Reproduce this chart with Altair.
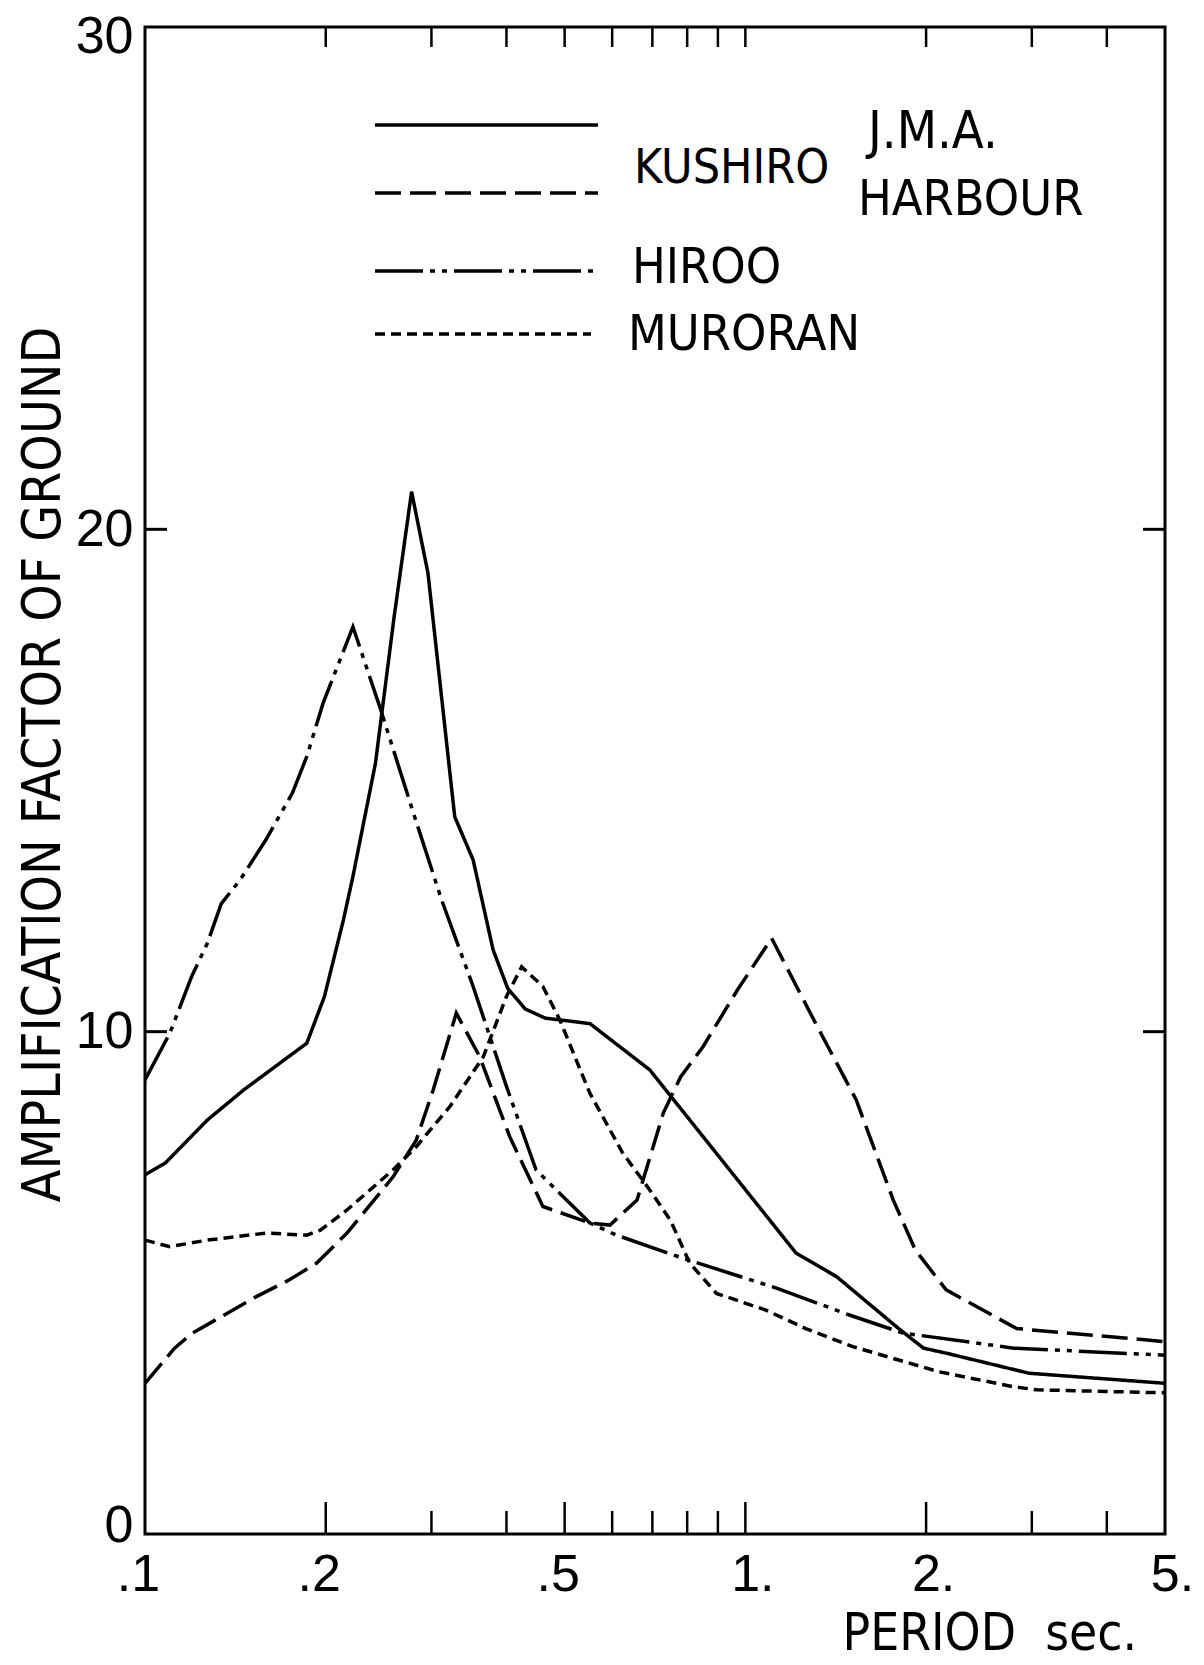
import altair as alt
import pandas as pd

# ---------------- data ----------------
PERIOD_JMA = [0.1, 0.108, 0.127, 0.146, 0.186, 0.199, 0.214, 0.222, 0.242, 0.260, 0.278, 0.296,
              0.328, 0.352, 0.380, 0.402, 0.430, 0.464, 0.551, 0.693, 1.215, 1.42, 1.80, 1.98,
              2.16, 2.97, 5.0]
AMP_JMA = [7.15, 7.38, 8.24, 8.84, 9.77, 10.70, 12.22, 13.09, 15.34, 18.26, 20.75, 19.13,
           14.28, 13.42, 11.63, 10.86, 10.45, 10.27, 10.16, 9.24, 5.59, 5.12, 4.09, 3.70,
           3.60, 3.20, 3.00]

PERIOD_HARBOUR = [0.1, 0.112, 0.120, 0.153, 0.174, 0.193, 0.217, 0.259, 0.283, 0.302, 0.330,
                  0.361, 0.405, 0.460, 0.551, 0.595, 0.66, 0.73, 0.78, 0.85, 0.97, 1.106, 1.31,
                  1.53, 1.763, 1.92, 2.16, 2.83, 5.0]
AMP_HARBOUR = [3.0, 3.7, 4.00, 4.72, 5.06, 5.39, 5.99, 7.11, 7.84, 8.84, 10.37,
               9.50, 7.91, 6.52, 6.19, 6.15, 6.65, 8.38, 9.10, 9.70, 10.83, 11.86, 10.16,
               8.64, 6.65, 5.65, 4.86, 4.09, 3.83]

PERIOD_HIROO = [0.1, 0.110, 0.1196, 0.127, 0.134, 0.144, 0.159, 0.176, 0.186, 0.198, 0.222,
                0.246, 0.280, 0.312, 0.352, 0.400, 0.448, 0.491, 0.551, 0.61, 0.787, 1.13,
                1.49, 1.83, 2.8, 5.0]
AMP_HIROO = [9.04, 9.97, 11.10, 11.76, 12.55, 13.02, 13.82, 14.75, 15.48, 16.54, 18.06,
             16.47, 14.35, 12.62, 10.90, 8.91, 7.25, 6.78, 6.19, 5.95, 5.49, 4.89,
             4.36, 4.00, 3.70, 3.56]

PERIOD_MURORAN = [0.1, 0.110, 0.127, 0.159, 0.186, 0.196, 0.217, 0.259, 0.283, 0.322, 0.366,
                  0.400, 0.424, 0.460, 0.491, 0.551, 0.625, 0.693, 0.75, 0.808, 0.895, 1.08,
                  1.26, 1.51, 2.1, 2.8, 3.06, 5.0]
AMP_MURORAN = [5.85, 5.72, 5.85, 5.99, 5.95, 6.05, 6.45, 7.25, 7.71, 8.51, 9.50,
               10.70, 11.29, 10.90, 10.23, 8.77, 7.58, 6.85, 6.25, 5.39, 4.79, 4.46,
               4.09, 3.73, 3.23, 2.93, 2.87, 2.81]

SERIES = ["KUSHIRO J.M.A.", "KUSHIRO HARBOUR", "HIROO", "MURORAN"]

X_LABEL_VALUES = [0.1, 0.2, 0.5, 1, 2, 5]
X_LABEL_TEXTS = [".1", ".2", ".5", "1.", "2.", "5."]
X_MAJOR_TICKS = [0.2, 0.5, 1, 2]
X_MINOR_TICKS = [0.3, 0.4, 0.6, 0.7, 0.8, 0.9, 3, 4]
Y_LABEL_VALUES = [0, 10, 20, 30]
Y_TICKS = [10, 20]

# ---------------- styles ----------------
W, H = 1020, 1507
LW = 3.5
DASHES = [[1, 0], [26, 9], [48, 7, 5, 7, 5, 7], [10, 6]]
NUM_FONT = "Liberation Sans"
TXT_FONT = "DejaVu Sans Condensed, DejaVu Sans"

rows = []
for name, xs, ys in zip(SERIES,
                        [PERIOD_JMA, PERIOD_HARBOUR, PERIOD_HIROO, PERIOD_MURORAN],
                        [AMP_JMA, AMP_HARBOUR, AMP_HIROO, AMP_MURORAN]):
    for xv, yv in zip(xs, ys):
        rows.append({"series": name, "x": xv, "y": yv})
df = pd.DataFrame(rows)

xscale = alt.Scale(type="log", domain=[0.1, 5], nice=False)
yscale = alt.Scale(domain=[0, 30], nice=False, zero=False)

label_expr = "".join(
    f"abs(datum.value - {v}) < 1e-6 ? '{t}' : " for v, t in zip(X_LABEL_VALUES, X_LABEL_TEXTS)
) + "''"

xaxis = alt.Axis(
    values=X_LABEL_VALUES, labelExpr=label_expr, labelFont=NUM_FONT, labelFontSize=52,
    labelColor="black", labelPadding=15, labelFlush=False, labelOverlap=False, labelBound=False,
    labelOffset={"condition": {"test": "datum.value < 0.7", "value": -7}, "value": 7},
    domain=False, ticks=False, grid=False,
    title="PERIOD\u00a0 sec.", titleFont=TXT_FONT, titleFontSize=51, titleFontWeight="normal",
    titleColor="black", titleAlign="left", titleBaseline="middle", titleX=697, titleY=100,
)
yaxis = alt.Axis(
    values=Y_LABEL_VALUES, format="d", labelFont=NUM_FONT, labelFontSize=52, labelColor="black",
    labelPadding=12, labelFlush=False, labelOverlap=False, labelBound=False,
    labelOffset={"condition": [{"test": "datum.value == 0", "value": -9},
                               {"test": "datum.value == 30", "value": 9}],
                 "value": 0},
    domain=False, ticks=False, grid=False,
    title="AMPLIFICATION FACTOR OF GROUND", titleFont=TXT_FONT, titleFontSize=53,
    titleFontWeight="normal", titleColor="black", titleAngle=270, titleAlign="center",
    titleBaseline="middle", titleX=-102, titleY=737,
)

lines = alt.Chart(df).mark_line(strokeWidth=LW, color="black").encode(
    x=alt.X("x:Q", scale=xscale, axis=xaxis),
    y=alt.Y("y:Q", scale=yscale, axis=yaxis),
    strokeDash=alt.StrokeDash("series:N", scale=alt.Scale(domain=SERIES, range=DASHES), legend=None),
    detail="series:N",
)

def xticks(values, y0, y1):
    return alt.Chart(pd.DataFrame({"x": values})).mark_rule(strokeWidth=2.5, color="black").encode(
        x=alt.X("x:Q", scale=xscale, axis=None), y=alt.value(y0), y2=alt.value(y1))

def yticks(values, x0, x1):
    return alt.Chart(pd.DataFrame({"y": values})).mark_rule(strokeWidth=3, color="black").encode(
        y=alt.Y("y:Q", scale=yscale, axis=None), x=alt.value(x0), x2=alt.value(x1))

tick_layers = [
    xticks(X_MAJOR_TICKS, H, H - 32),
    xticks(X_MINOR_TICKS, H, H - 23),
    xticks(X_MAJOR_TICKS + X_MINOR_TICKS, 0, 20),
    yticks(Y_TICKS, 0, 22),
    yticks(Y_TICKS, W, W - 22),
]

one = pd.DataFrame({"k": [0]})

def sample(dash, y, x0=230, x1=453):
    return alt.Chart(one).mark_rule(strokeWidth=LW, color="black", strokeDash=dash).encode(
        x=alt.value(x0), x2=alt.value(x1), y=alt.value(y))

def label(text, x, y, size=50):
    return alt.Chart(pd.DataFrame({"t": [text]})).mark_text(
        font=TXT_FONT, fontSize=size, align="left", baseline="middle", color="black"
    ).encode(x=alt.value(x), y=alt.value(y), text="t:N")

legend_layers = [
    sample(DASHES[0], 98),
    sample(DASHES[1], 166),
    sample(DASHES[2], 244),
    sample(DASHES[3], 307, x1=446),
    label("KUSHIRO", 489, 142, 48),
    label("J.M.A.", 723, 105, 52),
    label("HARBOUR", 713, 173),
    label("HIROO", 487, 241),
    label("MURORAN", 483, 308),
]

chart = alt.layer(lines, *tick_layers, *legend_layers).resolve_axis(
    x="independent", y="independent"
).properties(
    width=W, height=H,
    autosize=alt.AutoSizeParams(type="none"),
    padding={"left": 137, "top": 19, "right": 30, "bottom": 129},
    background="white",
).configure_view(stroke="black", strokeWidth=3)

chart.save("out.html", embed_options={"renderer": "svg", "actions": False})
